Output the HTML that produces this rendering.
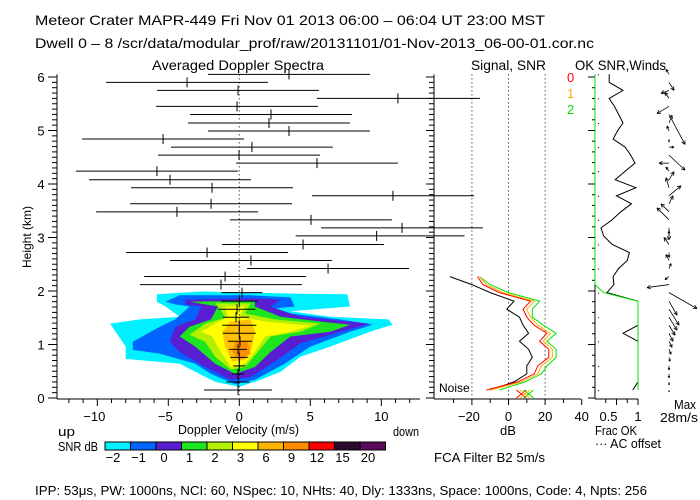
<!DOCTYPE html>
<html><head><meta charset="utf-8"><style>
body{margin:0;background:#fff}
svg{display:block;font-family:"Liberation Sans",sans-serif}
text{fill:#000}
</style></head><body>
<svg id="c" width="700" height="500" viewBox="0 0 700 500" xmlns="http://www.w3.org/2000/svg">
<g font-size="14">
<text x="35" y="25" textLength="510" lengthAdjust="spacingAndGlyphs">Meteor Crater   MAPR-449   Fri Nov 01 2013 06:00 – 06:04 UT 23:00 MST</text>
<text x="35" y="48" textLength="559" lengthAdjust="spacingAndGlyphs">Dwell  0 –  8    /scr/data/modular_prof/raw/20131101/01-Nov-2013_06-00-01.cor.nc</text>
<text x="152" y="70" textLength="172" lengthAdjust="spacingAndGlyphs">Averaged Doppler Spectra</text>
<text x="471" y="70" textLength="75" lengthAdjust="spacingAndGlyphs">Signal, SNR</text>
<text x="575" y="70" textLength="91" lengthAdjust="spacingAndGlyphs">OK SNR,Winds</text>
</g>
<g id="heat"></g>
<g id="main"></g>
<g id="sig"></g>
<g id="ok"></g>
<g id="cb"></g>
<g font-size="13">
<text x="58" y="436" textLength="17" lengthAdjust="spacingAndGlyphs">up</text>
<text x="393" y="436" textLength="26" lengthAdjust="spacingAndGlyphs">down</text>
<text x="178" y="434" textLength="121" lengthAdjust="spacingAndGlyphs">Doppler Velocity (m/s)</text>
<text x="58" y="451" textLength="40" lengthAdjust="spacingAndGlyphs">SNR dB</text>
<text x="434" y="462" textLength="111" lengthAdjust="spacingAndGlyphs">FCA Filter B2   5m/s</text>
<text x="35" y="495" textLength="612" lengthAdjust="spacingAndGlyphs">IPP:  53μs,  PW: 1000ns,  NCI:  60,  NSpec: 10, NHts: 40,  Dly: 1333ns,  Space: 1000ns,  Code: 4,  Npts: 256</text>
<text x="500" y="435">dB</text>
<text x="595" y="435" textLength="42" lengthAdjust="spacingAndGlyphs">Frac OK</text>
<text x="595" y="448" textLength="66" lengthAdjust="spacingAndGlyphs">··· AC offset</text>
<text x="674" y="409" textLength="22" lengthAdjust="spacingAndGlyphs">Max</text>
<text x="660" y="422" textLength="38" lengthAdjust="spacingAndGlyphs">28m/s</text>
<text x="439" y="392" font-size="12">Noise</text>
<text transform="translate(31,237) rotate(-90)" text-anchor="middle" font-size="12">Height (km)</text>
</g>
</svg>
<script>
// ---- data ----
const gateHeights=[6.05,5.90,5.75,5.60,5.45,5.30,5.14,4.99,4.84,4.69,4.54,4.39,4.24,4.08,3.93,3.78,3.63,3.48,3.33,3.18,3.03,2.87,2.72,2.57,2.42,2.27,2.12,1.97,1.81,1.66,1.51,1.36,1.21,1.06,0.91,0.76,0.60,0.45,0.30,0.15];
const velMean=[3.5,-3.68,-0.09,11.17,-0.16,2.23,2.09,3.5,-5.37,0.89,-0.02,5.47,-5.8,-4.88,-1.92,10.82,-1.99,-4.39,5.05,11.46,9.67,4.49,-2.27,0.82,6.25,-1.0,-1.29,0.19,0,-0.16,-0.23,0,0,0.05,-0.09,0,0,-0.09,-0.09,-0.09];
const velWidth=[5.7,5.7,5.7,5.7,5.7,5.7,5.7,5.7,5.7,5.7,5.7,5.7,5.7,5.7,5.7,5.7,5.7,5.7,5.7,5.7,5.7,5.7,5.7,5.7,5.7,5.7,5.7,1.44,1.3,1.3,0.92,1.2,1.16,0.85,0.63,0.63,0.42,0.42,0.81,2.39];
const sigBlack=[null,null,null,-15.6,null,null,null,null,null,null,null,null,null,null,null,-18.9,null,null,null,-14,-24,null,null,null,null,-32,-20,-10,3,-1,6,8,11,6,11,13,10,10,3,-10];
const sigRed=[null,null,null,null,null,null,null,null,null,null,null,null,null,null,null,null,null,null,null,null,null,null,null,null,null,-17,-14,-5,12,8,10,14,21,17,22,22,16,14,5,-12];
const sigOrange=[null,null,null,null,null,null,null,null,null,null,null,null,null,null,null,null,null,null,null,null,null,null,null,null,null,-16,-12,-3,14,10,12,16,23,19,24,24,18,16,7,-10];
const sigGreen=[null,null,null,null,null,null,null,null,null,null,null,null,null,null,null,null,null,null,null,null,null,null,null,null,null,-16,-10,0,17,13,13,19,26,21,26,26,21,18,9,-5];
const okSnr=[0.33,0.33,0.65,0.33,0.45,0.55,0.65,0.52,0.42,0.7,0.83,0.93,0.7,0.47,0.95,0.5,0.85,0.6,0.4,0.14,0.2,0.4,0.8,0.75,0.55,0.42,0.44,0.28,1,1,1,1,0.65,1,1,1,1,1,1,0.88];
const fracOk=[0,0,0,0,0,0,0,0,0,0,0,0,0,0,0,0,0,0,0,0,0,0,0,0,0,0,0,0.2,1,1,1,1,1,1,1,1,1,1,1,1];
const windU=[-3,5,-8,-4,-12,16,3,-2,0,5,16,-10,-3,5,-3,12,4,-8,-12,0,0,-5,0,-3,2,-4,-22,28,8,10,8,6,4,3,2,1,0,0,0,0];
const windV=[5,-8,-3,6,-7,-30,8,5,-3,0,-15,0,4,8,10,10,8,8,12,-12,5,7,-5,6,5,-3,-3,-16,-14,-16,-13,-10,-8,-6,-5,-4,-4,-4,-3,-2];
const velTicks=[-10,-5,0,5,10];
const hTicks=[0,1,2,3,4,5,6];
const dbTicks=[-20,0,20,40];
const cbLabels=["-2","-1","0","1","2","3","6","9","12","15","20"];
const cbColors=["#00f0ff","#0064ff","#5a1ed2","#1ee61e","#b4f000","#ffff00","#ffb400","#ff8c00","#ff0000","#2d0a2d","#5a0a5a"];
const contourColors=["#00f0ff","#0064ff","#5a1ed2","#1ee61e","#b4f000","#ffff00","#ffc000","#ff9000"];
const contours=[
[[-5.8,1.94],[-2.7,1.99],[4.3,1.95],[7.6,1.94],[7.8,1.71],[3.6,1.62],[6.4,1.52],[10.5,1.47],[10.8,1.37],[9.2,1.24],[6.4,0.96],[4.3,0.77],[2.9,0.49],[1.5,0.34],[0,0.21],[-1.7,0.30],[-3.1,0.49],[-4.2,0.64],[-8.0,0.73],[-8.0,0.96],[-9.1,1.39],[-7.0,1.47],[-4.2,1.52],[-5.2,1.71],[-5.8,1.80]],
[[-5.2,1.80],[-4.2,1.92],[0.8,1.92],[3.6,1.88],[3.9,1.71],[1.5,1.65],[3.6,1.58],[7.1,1.47],[9.4,1.37],[7.8,1.24],[5.0,0.96],[3.2,0.64],[1.1,0.34],[-0.3,0.26],[-2.0,0.45],[-3.1,0.64],[-5.6,0.83],[-7.5,0.90],[-7.5,1.05],[-5.6,1.33],[-4.5,1.47],[-3.5,1.71],[-4.5,1.75]],
[[-3.8,1.84],[0.8,1.86],[2.9,1.84],[2.2,1.71],[4.3,1.52],[9.2,1.39],[7.1,1.24],[4.3,1.02],[2.5,0.68],[0.8,0.39],[-0.6,0.34],[-2.4,0.58],[-4.2,0.86],[-4.9,1.05],[-4.5,1.33],[-3.1,1.47],[-2.7,1.71],[-3.8,1.75]],
[[-3.5,1.80],[1.1,1.82],[1.1,1.71],[2.9,1.52],[5.7,1.43],[7.8,1.37],[6.4,1.24],[3.6,1.15],[2.2,0.86],[1.1,0.58],[-0.3,0.45],[-1.7,0.64],[-3.1,0.96],[-4.2,1.15],[-3.5,1.33],[-2.0,1.47],[-1.5,1.71]],
[[-1.7,1.77],[0.8,1.77],[0.4,1.58],[2.5,1.47],[5.7,1.39],[4.3,1.24],[2.2,1.15],[1.3,0.86],[0.4,0.58],[-0.6,0.53],[-1.7,0.77],[-2.4,1.05],[-3.5,1.18],[-2.4,1.39],[-1.0,1.50],[-1.3,1.65]],
[[-1.0,1.71],[0.4,1.71],[0.0,1.52],[1.8,1.43],[5.0,1.35],[3.6,1.24],[1.8,1.15],[1.1,0.86],[0.4,0.64],[-0.6,0.58],[-1.3,0.86],[-1.9,1.15],[-2.7,1.24],[-1.7,1.39],[-0.8,1.52]],
[[-0.6,1.43],[0.8,1.47],[1.1,1.24],[0.9,0.96],[0.4,0.71],[-0.5,0.68],[-1.0,0.96],[-1.2,1.24]],
[[-0.3,1.05],[0.6,1.05],[0.8,0.83],[0.0,0.71],[-0.5,0.86]]
];
// ---- scales ----
const xV=v=>239.3+v*14.2;
const yH=h=>398-h*53.5;
const xDB=d=>Math.max(434,508.5+d*1.83);
const xF=f=>595+f*43;
const NS="http://www.w3.org/2000/svg";
function mk(par,tag,at){const e=document.createElementNS(NS,tag);for(const k in at)e.setAttribute(k,at[k]);par.appendChild(e);return e;}
const heat=document.getElementById('heat'),main=document.getElementById('main'),sig=document.getElementById('sig'),ok=document.getElementById('ok'),cb=document.getElementById('cb');
contours.forEach((poly,i)=>{
  const p=mk(heat,'polygon',{points:poly.map(q=>xV(q[0]).toFixed(1)+','+yH(q[1]).toFixed(1)).join(' '),fill:contourColors[i]});
  
  
});
const ln=(par,x1,y1,x2,y2,extra)=>mk(par,'line',Object.assign({x1,y1,x2,y2,stroke:'#000','stroke-width':1},extra||{}));
let a=ln(main,57,yH(6.05),57,399);
a=ln(main,57,399,420,399);
for(let k=0;k<=60;k++){const y=yH(k/10);ln(main,k%10==0?48:52,y,57,y);}
hTicks.forEach(h=>{const t=mk(main,'text',{x:41,y:yH(h)+5,'font-size':13,'text-anchor':'middle'});t.textContent=h;
});
for(let v=-12;v<=12;v++){const x=xV(v);ln(main,x,399,x,v%5==0?406:403);}
velTicks.forEach(v=>{const t=mk(main,'text',{x:xV(v)-(v<0?3:0),y:421,'font-size':13,'text-anchor':'middle'});t.textContent=v<0?'−'+(-v):v;
});
a=ln(main,xV(0),yH(6.05),xV(0),402,{'stroke-dasharray':'1,3'});
gateHeights.forEach((h,i)=>{
  const y=yH(h),x1=Math.max(57,xV(velMean[i]-velWidth[i])),x2=Math.min(434,xV(velMean[i]+velWidth[i]));
  const g=mk(main,'g',{});
  
  
  ln(g,x1,y,x2,y);ln(g,xV(velMean[i]),y-5,xV(velMean[i]),y+5);
});
// signal panel
a=ln(sig,434,yH(6.05),434,399);
a=ln(sig,434,399,581,399);
for(let k=0;k<=60;k++){const y=yH(k/10);ln(sig,k%10==0?426:429,y,434,y);}
for(let d=-30;d<=40;d+=10){ln(sig,xDB(d),399,xDB(d),d%20==0?405:403);}
dbTicks.forEach(d=>{ if(d<40) ln(sig,xDB(d),yH(6.05),xDB(d),399,{'stroke-dasharray':'1,3'});
  const t=mk(sig,'text',{x:xDB(d)-(d<0?3:0),y:421,'font-size':13,'text-anchor':'middle'});t.textContent=d<0?'−'+(-d):d;
  });
function series(par,arr,sx,color,name,from){
  const pts=[];arr.forEach((v,i)=>{if(v!==null&&i>=(from||0))pts.push(sx(v).toFixed(1)+','+yH(gateHeights[i]).toFixed(1));});
  const p=mk(par,'polyline',{points:pts.join(' '),fill:'none',stroke:color,'stroke-width':1});
  
  
}
// isolated upper-gate signal values drawn as horizontal bars from the axis
sigBlack.forEach((v,i)=>{ if(v!==null&&i<25){const l=ln(sig,434,yH(gateHeights[i]),xDB(v),yH(gateHeights[i]));
}});
series(sig,sigBlack,xDB,'#000','signal-line',25);
series(sig,sigGreen,xDB,'#00e000','snr-line-2');
series(sig,sigOrange,xDB,'#ffb000','snr-line-1');
series(sig,sigRed,xDB,'#ff0000','snr-line-0');
[['0','#ff0000',82],['1','#ffb000',98],['2','#00e000',114]].forEach(l=>{const t=mk(sig,'text',{x:567,y:l[2],'font-size':13,fill:l[1]});t.textContent=l[0];t.style.fill=l[1];
});
const xm=mk(sig,'g',{});
[[xDB(7),'#ff0000'],[xDB(11),'#00e000'],[xDB(9),'#ffb000']].forEach(m=>{ln(xm,m[0]-5,390,m[0]+5,398,{stroke:m[1]});ln(xm,m[0]-5,398,m[0]+5,390,{stroke:m[1]});});
// OK panel
a=ln(ok,595,yH(6.05),595,399);
a=ln(ok,595,399,638,399);
for(let k=0;k<=60;k+=2){const y=yH(k/10);ln(ok,k%10==0?588:592,y,595,y);}
[0.25,0.5,0.75,1].forEach(f=>ln(ok,xF(f),399,xF(f),f%0.5==0?405:403));
[[0.5,'0.5'],[1,'1']].forEach(f=>{const t=mk(ok,'text',{x:xF(f[0])-(f[0]==0.5?8:0),y:421,'font-size':13,'text-anchor':'middle'});t.textContent=f[1];
});
series(ok,okSnr,xF,'#000','ok-snr-line');
series(ok,fracOk,xF,'#00e000','frac-ok-line');
gateHeights.forEach((h,i)=>{if(i%3==0){const d=mk(ok,'rect',{x:598,y:yH(h),width:1,height:1,fill:'#000'});
}});
// winds
const wg=mk(ok,'g',{});
gateHeights.forEach((h,i)=>{
  const x0=669,y0=yH(h),x1=x0+windU[i],y1=y0-windV[i];
  const g=mk(wg,'g',{});
  
  
  ln(g,x0,y0,x1,y1,{'stroke-width':0.8});
  const L=Math.hypot(windU[i],windV[i]);if(L>0){const ux=(x1-x0)/L,uy=(y1-y0)/L,s=Math.min(4,L*0.5);
  ln(g,x1,y1,x1-s*(ux*0.9-uy*0.45),y1-s*(uy*0.9+ux*0.45),{'stroke-width':0.8});ln(g,x1,y1,x1-s*(ux*0.9+uy*0.45),y1-s*(uy*0.9-ux*0.45),{'stroke-width':0.8});}
});
// colorbar
cbColors.forEach((c,i)=>{const r=mk(cb,'rect',{x:105+i*25.5,y:442,width:25.5,height:8,fill:c,stroke:'#000','stroke-width':1});

const t=mk(cb,'text',{x:105+i*25.5+8,y:462,'font-size':13,'text-anchor':'middle'});t.textContent=cbLabels[i].replace('-','−');
});
</script>
</body></html>
